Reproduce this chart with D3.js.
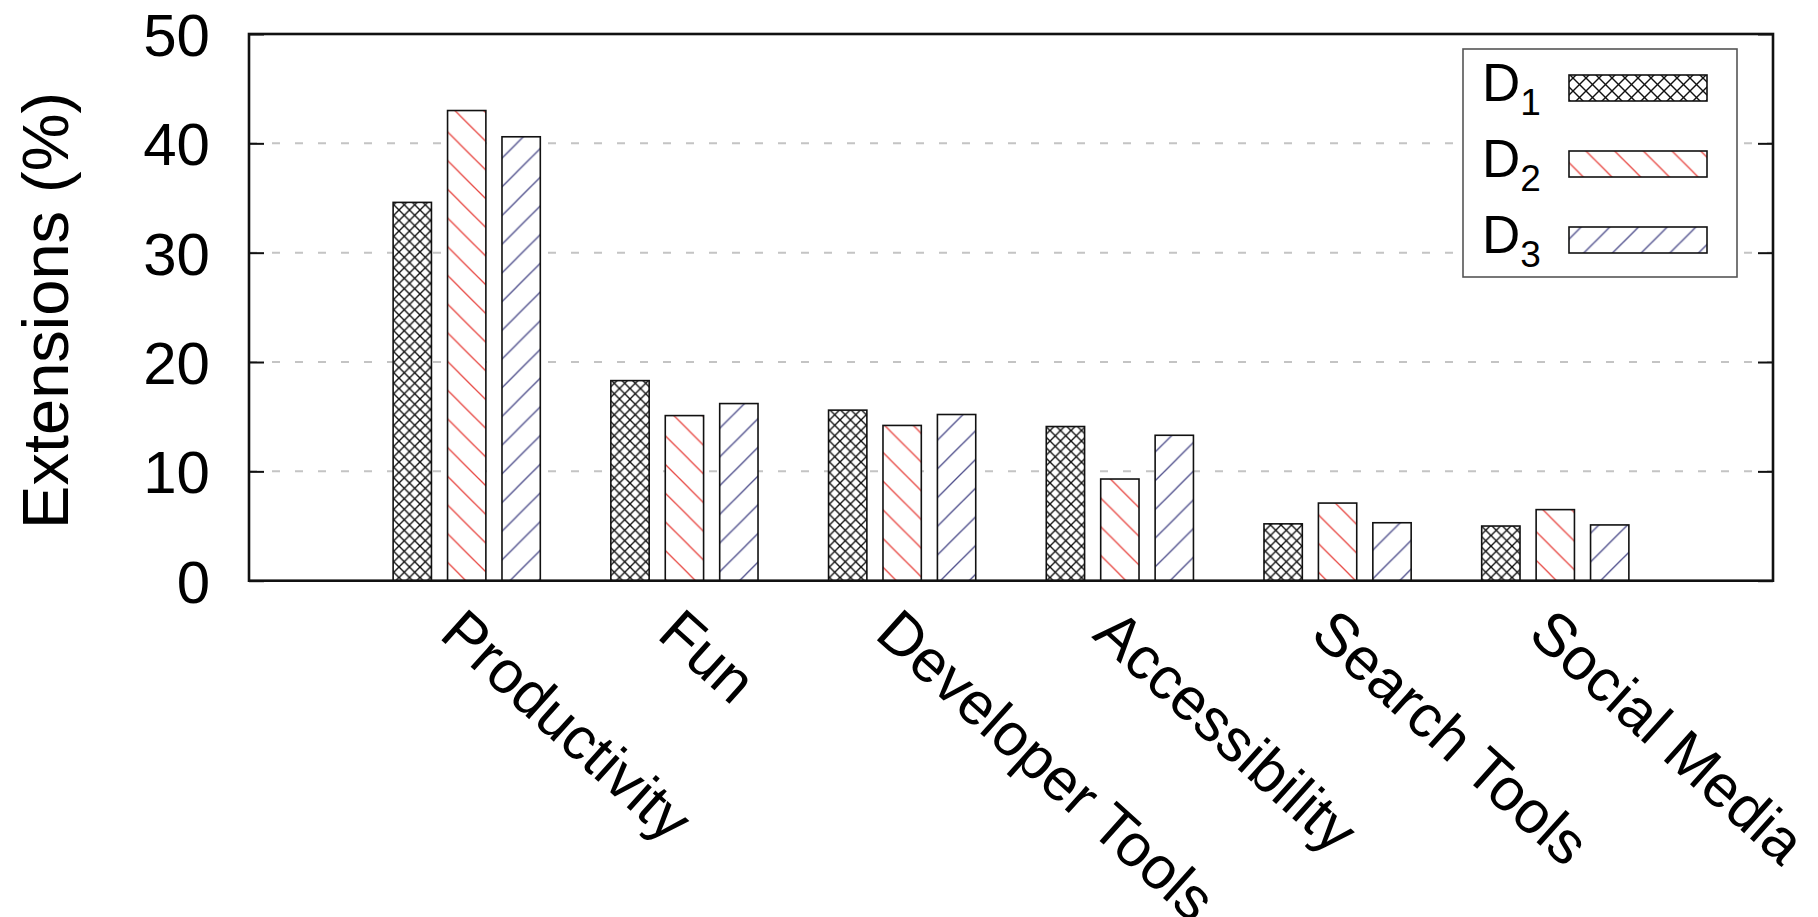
<!DOCTYPE html>
<html>
<head>
<meta charset="utf-8">
<script src="https://cdn.jsdelivr.net/npm/d3@7"></script>
<style>
  html, body { margin: 0; padding: 0; background: #fff; }
  svg { display: block; font-family: "Liberation Sans", Arial, Helvetica, sans-serif; }
</style>
</head>
<body>
<svg id="chart" width="1818" height="917"></svg>
<script>
// ---- data ----
const categories = ["Productivity", "Fun", "Developer Tools", "Accessibility", "Search Tools", "Social Media"];
const seriesNames = ["D1", "D2", "D3"];
const d1Values = [34.6, 18.3, 15.6, 14.1, 5.2, 5.0];
const d2Values = [43.0, 15.1, 14.2, 9.3, 7.1, 6.5];
const d3Values = [40.6, 16.2, 15.2, 13.3, 5.3, 5.1];
const yTicks = [0, 10, 20, 30, 40, 50];
const yGridTicks = [10, 20, 30, 40];
const yTitle = "Extensions (%)";

const series = [
  { name: seriesNames[0], sub: "1", values: d1Values, pattern: "pat-cross", legendPattern: "pat-cross-key" },
  { name: seriesNames[1], sub: "2", values: d2Values, pattern: "pat-red", legendPattern: "pat-red" },
  { name: seriesNames[2], sub: "3", values: d3Values, pattern: "pat-blue", legendPattern: "pat-blue" }
];

// ---- layout ----
const L = 249, R = 1773, T = 34, B = 580.7;
const svg = d3.select("#chart");

const x = d3.scaleLinear().domain([-1, 6]).range([L, R]);
const y = d3.scaleLinear().domain([0, 50]).range([B, T]);
const offsets = [-0.25, 0, 0.25];
const barW = 0.176;

// ---- patterns ----
const defs = svg.append("defs");
function crossPattern(id, s) {
  const p = defs.append("pattern").attr("id", id).attr("patternUnits", "userSpaceOnUse")
    .attr("width", s).attr("height", s);
  p.append("rect").attr("width", s).attr("height", s).attr("fill", "#fff");
  const g = p.append("g").attr("stroke", "#111").attr("stroke-width", 1.4);
  g.append("line").attr("x1", 0).attr("y1", 0).attr("x2", s).attr("y2", s);
  g.append("line").attr("x1", 0).attr("y1", s).attr("x2", s).attr("y2", 0);
}
crossPattern("pat-cross", 10.5);
crossPattern("pat-cross-key", 13);

function hatchPattern(id, s, color, dir) {
  const p = defs.append("pattern").attr("id", id).attr("patternUnits", "userSpaceOnUse")
    .attr("width", s).attr("height", s);
  p.append("rect").attr("width", s).attr("height", s).attr("fill", "#fff");
  const g = p.append("g").attr("stroke", color).attr("stroke-width", 1.3);
  if (dir === "down") {
    g.append("line").attr("x1", 0).attr("y1", 0).attr("x2", s).attr("y2", s);
    g.append("line").attr("x1", -s / 2).attr("y1", s / 2).attr("x2", s / 2).attr("y2", s * 1.5);
    g.append("line").attr("x1", s / 2).attr("y1", -s / 2).attr("x2", s * 1.5).attr("y2", s / 2);
  } else {
    g.append("line").attr("x1", 0).attr("y1", s).attr("x2", s).attr("y2", 0);
    g.append("line").attr("x1", -s / 2).attr("y1", s / 2).attr("x2", s / 2).attr("y2", -s / 2);
    g.append("line").attr("x1", s / 2).attr("y1", s * 1.5).attr("x2", s * 1.5).attr("y2", s / 2);
  }
}
hatchPattern("pat-red", 28.7, "#e84a45", "down");
hatchPattern("pat-blue", 28.7, "#4f4f8c", "up");

// ---- grid ----
svg.append("g").selectAll("line").data(yGridTicks).join("line")
  .attr("x1", L).attr("x2", R)
  .attr("y1", d => y(d)).attr("y2", d => y(d))
  .attr("stroke", "#c4c4c4").attr("stroke-width", 2)
  .attr("stroke-dasharray", "8,15");

// ---- bars ----
series.forEach((s, si) => {
  svg.append("g").selectAll("rect").data(s.values).join("rect")
    .attr("x", (d, i) => x(i + offsets[si] - barW / 2))
    .attr("width", x(barW) - x(0))
    .attr("y", d => y(d))
    .attr("height", d => y(0) - y(d))
    .attr("fill", `url(#${s.pattern})`)
    .attr("stroke", "#111").attr("stroke-width", 1.6);
});

// ---- axes ----
const yAxisL = svg.append("g").attr("transform", `translate(${L},0)`)
  .call(d3.axisLeft(y).tickValues(yTicks).tickSize(-15).tickPadding(39).tickFormat(d3.format("d")));
const yAxisR = svg.append("g").attr("transform", `translate(${R},0)`)
  .call(d3.axisRight(y).tickValues(yTicks).tickSize(-15).tickFormat(""));
[yAxisL, yAxisR].forEach(a => {
  a.select(".domain").remove();
  a.selectAll(".tick line").attr("stroke", "#111").attr("stroke-width", 2);
});
yAxisL.selectAll(".tick text")
  .attr("font-size", 60).attr("fill", "#000").attr("dy", "0.36em")
  .attr("font-family", "'Liberation Sans', Arial, sans-serif");

// frame
svg.append("rect").attr("x", L).attr("y", T).attr("width", R - L).attr("height", B - T)
  .attr("fill", "none").attr("stroke", "#111").attr("stroke-width", 2.6);

// x labels
svg.append("g").selectAll("text").data(categories).join("text")
  .attr("transform", (d, i) => `translate(${x(i)},605) rotate(42)`)
  .attr("dy", "0.72em")
  .attr("text-anchor", "start")
  .attr("font-size", 60)
  .attr("fill", "#000")
  .text(d => d);

// y title
svg.append("text")
  .attr("transform", `translate(68,${(T + B) / 2 + 3}) rotate(-90)`)
  .attr("text-anchor", "middle")
  .attr("font-size", 65)
  .attr("fill", "#000")
  .text(yTitle);

// ---- legend ----
const lg = svg.append("g");
lg.append("rect").attr("x", 1463).attr("y", 49).attr("width", 274).attr("height", 228)
  .attr("fill", "#fff").attr("stroke", "#555").attr("stroke-width", 1.6);
const rowY = d3.scaleLinear().domain([0, 2]).range([88, 240]);
series.forEach((s, si) => {
  const cy = rowY(si);
  const t = lg.append("text").attr("x", 1482).attr("y", cy + 13).attr("font-size", 53).attr("fill", "#000");
  t.append("tspan").text(s.name.charAt(0));
  t.append("tspan").attr("font-size", 37).attr("dy", 14).text(s.sub);
  lg.append("rect").attr("x", 1569).attr("y", cy - 13).attr("width", 138).attr("height", 26)
    .attr("fill", `url(#${s.legendPattern})`).attr("stroke", "#111").attr("stroke-width", 1.6);
});
</script>
</body>
</html>
